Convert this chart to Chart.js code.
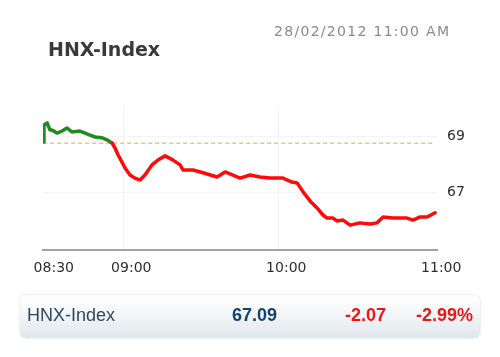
<!DOCTYPE html>
<html>
<head>
<meta charset="utf-8">
<script src="https://cdn.jsdelivr.net/npm/chart.js@4.4.1/dist/chart.umd.min.js"></script>
<style>
  html, body { margin:0; padding:0; background:#fff; }
  #wrap { position:relative; width:500px; height:357px; overflow:hidden; }
  #c { position:absolute; left:0; top:0; }
  .t { position:absolute; white-space:nowrap; line-height:1; }
  #title { left:48px; top:38px; font:bold 19px "DejaVu Sans", sans-serif; color:#3a3a3a; }
  #date { left:274px; top:23px; font:14px "DejaVu Sans", sans-serif; color:#8a8a8a; letter-spacing:1.3px; }
  #bar { position:absolute; left:20px; top:295px; width:460px; height:43px; border-radius:6px;
         background:linear-gradient(#ffffff 0%, #f3f6f8 45%, #dfe7ec 100%);
         box-shadow:0 0 2px rgba(150,170,185,0.6); }
  .b { position:absolute; top:306px; white-space:nowrap; line-height:18px; font-family:"Liberation Sans", Arial, sans-serif; font-size:18px; }
</style>
</head>
<body>
<div id="wrap">
  <canvas id="c" width="500" height="357"></canvas>
  <div class="t" id="title">HNX-Index</div>
  <div class="t" id="date">28/02/2012 11:00 AM</div>
  <div id="bar"></div>
  <div class="b" style="left:27px;color:#2c4864;">HNX-Index</div>
  <div class="b" style="left:232px;color:#13436d;font-weight:bold;">67.09</div>
  <div class="b" style="left:345px;color:#ee1414;font-weight:bold;">-2.07</div>
  <div class="b" style="left:416px;color:#ee1414;font-weight:bold;">-2.99%</div>
</div>
<script>
// minutes after 08:30
const minutes = [-1.0,-0.7,0.5,1.6,2.4,4.3,6.3,8.2,10.1,13.2,15.2,17.1,19.1,21.8,23.7,25.6,
  26.8,28.0,29.5,30.7,32.6,34.5,36.5,38.4,41.1,43.4,46.2,49.3,52.0,53.1,57.0,60.9,66.3,69.4,
  71.3,75.2,79.1,82.9,86.8,91.8,95.3,97.3,99.6,102.3,105.0,107.3,108.9,111.2,112.7,115.1,
  117.8,121.6,125.5,128.2,130.6,134.4,139.8,142.2,144.9,147.6,150.7];
const indexValues = [68.79,69.40,69.47,69.22,69.22,69.11,69.18,69.29,69.15,69.18,69.11,69.04,68.97,68.94,68.87,68.76,
  68.58,68.33,68.08,67.87,67.62,67.51,67.44,67.62,67.98,68.15,68.30,68.15,67.98,67.80,67.80,67.70,67.55,67.73,
  67.66,67.51,67.62,67.55,67.51,67.51,67.37,67.34,67.02,66.70,66.45,66.20,66.09,66.09,65.99,66.02,
  65.84,65.92,65.88,65.92,66.13,66.09,66.09,66.02,66.13,66.13,66.28];
const referenceLevel = 68.75;
const xTickMinutes = [0, 30, 90, 150];
const xTickLabels = ['08:30', '09:00', '10:00', '11:00'];
const yTickValues = [67, 69];

const GREEN = '#238a23', RED = '#ff0a0a';
const pts = minutes.map((m, i) => ({x: m, y: indexValues[i]}));

new Chart(document.getElementById('c'), {
  type: 'line',
  data: {
    datasets: [
      {
        data: [{x: -1.0, y: referenceLevel}, {x: 150, y: referenceLevel}],
        borderColor: '#f7be86', borderWidth: 1.5, borderDash: [4, 3],
        pointRadius: 0, tension: 0, order: 2
      },
      {
        data: pts,
        borderWidth: 3.5, pointRadius: 0, tension: 0, order: 1,
        borderColor: RED, borderJoinStyle: 'round', borderCapStyle: 'round',
        segment: {
          borderColor: ctx => (ctx.p1.parsed.y >= referenceLevel - 0.001 && ctx.p0.parsed.y >= referenceLevel - 0.001) ? GREEN : RED
        }
      }
    ]
  },
  options: {
    responsive: false, animation: false,
    layout: { padding: { left: 43, top: 108, right: 0, bottom: 0 } },
    plugins: { legend: { display: false }, tooltip: { enabled: false } },
    scales: {
      x: {
        type: 'linear', min: -1.08, max: 151.45,
        afterFit: s => { s.height = 107; },
        afterBuildTicks: s => { s.ticks = xTickMinutes.map(v => ({value: v})); },
        grid: { drawTicks: false, color: c => (c.tick && (c.tick.value === 30 || c.tick.value === 90)) ? '#f2f2f2' : 'rgba(0,0,0,0)' },
        border: { display: true, color: '#a3a3a3', width: 2 },
        ticks: {
          autoSkip: false, maxRotation: 0, padding: 10, labelOffset: 8,
          color: '#2e2e2e', font: { family: 'DejaVu Sans', size: 14 },
          callback: v => { const i = xTickMinutes.indexOf(v); return i >= 0 ? xTickLabels[i] : ''; }
        }
      },
      y: {
        type: 'linear', position: 'right', min: 64.957, max: 70,
        afterFit: s => { s.width = 63; },
        afterBuildTicks: s => { s.ticks = yTickValues.map(v => ({value: v})); },
        grid: { drawTicks: false, color: '#f4f4f4' },
        border: { display: false },
        ticks: { padding: 10, color: '#2e2e2e', font: { family: 'DejaVu Sans', size: 14 } }
      }
    }
  }
});
</script>
</body>
</html>
